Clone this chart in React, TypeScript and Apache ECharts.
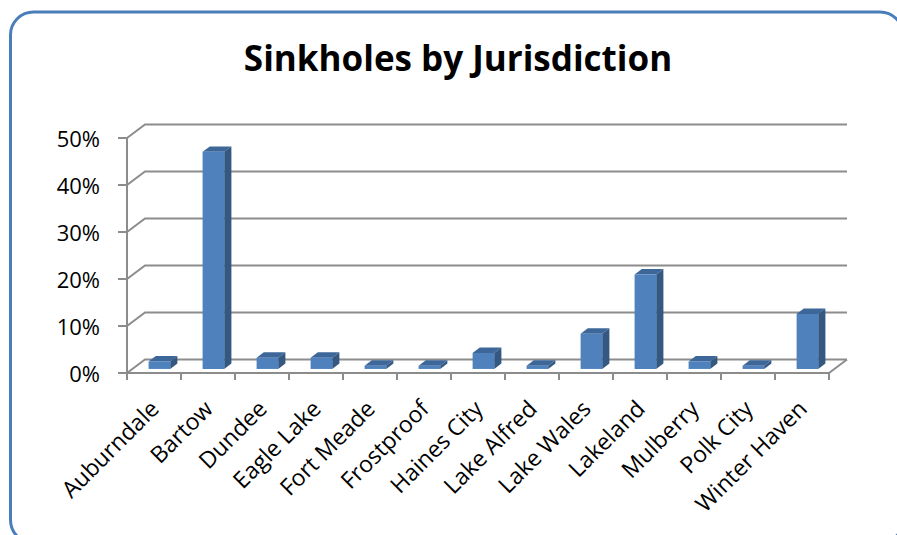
import React, { useEffect, useRef } from "react";
import * as echarts from "echarts";

// Share of recorded sinkholes per jurisdiction
const categories = [
  "Auburndale",
  "Bartow",
  "Dundee",
  "Eagle Lake",
  "Fort Meade",
  "Frostproof",
  "Haines City",
  "Lake Alfred",
  "Lake Wales",
  "Lakeland",
  "Mulberry",
  "Polk City",
  "Winter Haven",
];
const shares = [0.016, 0.462, 0.024, 0.024, 0.007, 0.007, 0.034, 0.007, 0.075, 0.201, 0.016, 0.007, 0.117];
const gridValues = [0, 0.1, 0.2, 0.3, 0.4, 0.5];
const titleText = "Sinkholes by Jurisdiction";

// Oblique depth of the 3D box (pixels from front plane to back wall)
const DEPTH_X = 18;
const DEPTH_Y = 13.5;
// Column depth range inside the box and its width share of a category band
const COL_D0 = 0.3;
const COL_D1 = 0.7;
const COL_WIDTH = 0.4;

const FRONT = "#4F81BD";
const SIDE = "#345882";
const TOP = "#3E6799";
const LINE = "#8c8c8c";
const FONT = '"Open Sans", "Noto Sans", sans-serif';

export default function App() {
  const ref = useRef<HTMLDivElement>(null);

  useEffect(() => {
    if (!ref.current) return;
    const chart = echarts.init(ref.current, null, { renderer: "svg" });

    const wallItem = (params: any, api: any) => {
      const v = api.value(1);
      const cs = params.coordSys;
      const y = api.coord([0, v])[1];
      const left = cs.x;
      const right = cs.x + cs.width;
      const children: any[] = [
        {
          type: "polyline",
          shape: {
            points: [
              [left, y],
              [left + DEPTH_X, y - DEPTH_Y],
              [right + DEPTH_X, y - DEPTH_Y],
            ],
          },
          style: { stroke: LINE, lineWidth: 2, fill: null },
        },
      ];
      if (v === 0) {
        children.push({
          type: "line",
          shape: { x1: right, y1: y, x2: right + DEPTH_X, y2: y - DEPTH_Y },
          style: { stroke: LINE, lineWidth: 2 },
        });
      }
      return { type: "group", children };
    };

    const columnItem = (params: any, api: any) => {
      const idx = api.value(0);
      const v = api.value(1);
      const topPt = api.coord([idx, v]);
      const basePt = api.coord([idx, 0]);
      const band = api.size([1, 0])[0];
      const w = band * COL_WIDTH;
      const fx = DEPTH_X * COL_D0;
      const fy = DEPTH_Y * COL_D0;
      const sx = DEPTH_X * (COL_D1 - COL_D0);
      const sy = DEPTH_Y * (COL_D1 - COL_D0);
      const xl = topPt[0] - w / 2 + fx;
      const xr = xl + w;
      const yt = topPt[1] - fy;
      const yb = basePt[1] - fy;
      return {
        type: "group",
        children: [
          {
            type: "polygon",
            shape: { points: [[xl, yt], [xr, yt], [xr + sx, yt - sy], [xl + sx, yt - sy]] },
            style: { fill: TOP },
          },
          {
            type: "polygon",
            shape: { points: [[xr, yt], [xr + sx, yt - sy], [xr + sx, yb - sy], [xr, yb]] },
            style: { fill: SIDE },
          },
          {
            type: "rect",
            shape: { x: xl, y: yt, width: w, height: yb - yt },
            style: { fill: FRONT },
          },
        ],
      };
    };

    chart.setOption({
      animation: false,
      backgroundColor: "#ffffff",
      graphic: [
        {
          type: "rect",
          shape: { x: 10.5, y: 12, width: 892.5, height: 531, r: 23 },
          style: { stroke: "#4A7EBB", lineWidth: 3, fill: "none" },
          z: 10,
        },
        {
          type: "text",
          x: 458,
          y: 57,
          style: {
            text: titleText,
            font: `bold 35px ${FONT}`,
            fill: "#000000",
            align: "center",
            verticalAlign: "middle",
          },
        },
      ],
      grid: { left: 127, right: 68, top: 138, bottom: 162 },
      xAxis: {
        type: "category",
        data: categories,
        boundaryGap: true,
        axisLine: { show: true, lineStyle: { color: LINE, width: 2 } },
        axisTick: { show: true, length: 7, interval: 0, lineStyle: { color: LINE, width: 2 } },
        axisLabel: {
          interval: 0,
          rotate: 45,
          margin: 31,
          fontFamily: FONT,
          fontSize: 23,
          color: "#000000",
        },
        splitLine: { show: false },
      },
      yAxis: {
        type: "value",
        min: 0,
        max: 0.5,
        interval: 0.1,
        axisLine: { show: true, lineStyle: { color: LINE, width: 2 } },
        axisTick: { show: true, length: 9, lineStyle: { color: LINE, width: 2 } },
        axisLabel: {
          margin: 27,
          fontFamily: FONT,
          fontSize: 22,
          color: "#000000",
          formatter: (v: number) => `${Math.round(v * 100)}%`,
        },
        splitLine: { show: false },
      },
      series: [
        {
          type: "custom",
          name: "walls",
          renderItem: wallItem,
          data: gridValues.map((v) => [0, v]),
          encode: { x: 0, y: 1 },
          silent: true,
          z: 1,
        },
        {
          type: "custom",
          name: "Sinkholes",
          renderItem: columnItem,
          data: shares.map((v, i) => [i, v]),
          encode: { x: 0, y: 1 },
          z: 2,
        },
      ],
    });

    return () => chart.dispose();
  }, []);

  return (
    <div
      ref={ref}
      style={{ position: "fixed", left: 0, top: 0, width: 897, height: 535 }}
    />
  );
}
